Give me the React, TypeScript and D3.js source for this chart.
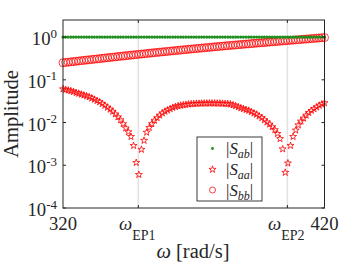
import React from 'react';
import * as d3 from 'd3';

// frequency grid (rad/s), one sample per rad/s
const omega = d3.range(320, 421);

// |S_ab| stays flat at 1
const sabAmp = [
  1, 1, 1, 1, 1, 1, 1, 1, 1, 1, 1, 1, 1, 1, 1, 1, 1, 1, 1, 1,
  1, 1, 1, 1, 1, 1, 1, 1, 1, 1, 1, 1, 1, 1, 1, 1, 1, 1, 1, 1,
  1, 1, 1, 1, 1, 1, 1, 1, 1, 1, 1, 1, 1, 1, 1, 1, 1, 1, 1, 1,
  1, 1, 1, 1, 1, 1, 1, 1, 1, 1, 1, 1, 1, 1, 1, 1, 1, 1, 1, 1,
  1, 1, 1, 1, 1, 1, 1, 1, 1, 1, 1, 1, 1, 1, 1, 1, 1, 1, 1, 1,
  1,
];

const saaAmp = [
  0.061, 0.0589, 0.0569, 0.055, 0.0525, 0.0501, 0.0479, 0.0457, 0.0437, 0.0417,
  0.0398, 0.0372, 0.0347, 0.0324, 0.0302, 0.0275, 0.0251, 0.0226, 0.0204, 0.0182,
  0.0158, 0.0135, 0.0115, 0.00933, 0.00741, 0.00603, 0.00468, 0.00288, 0.00115, 0.000603,
  0.00234, 0.0038, 0.00589, 0.00759, 0.00933, 0.0112, 0.0129, 0.0148, 0.0166, 0.0182,
  0.0195, 0.0209, 0.0224, 0.0234, 0.0245, 0.0251, 0.0257, 0.0263, 0.0269, 0.0272,
  0.0275, 0.0278, 0.028, 0.0281, 0.0282, 0.0282, 0.0283, 0.0283, 0.0282, 0.0282,
  0.0281, 0.0279, 0.0277, 0.0275, 0.0269, 0.0257, 0.0245, 0.0232, 0.0219, 0.0209,
  0.02, 0.0191, 0.0178, 0.0166, 0.0155, 0.0141, 0.0129, 0.0115, 0.0102, 0.00912,
  0.00794, 0.00676, 0.0055, 0.00417, 0.0024, 0.000676, 0.00112, 0.00288, 0.00468, 0.00661,
  0.00871, 0.0107, 0.0126, 0.0148, 0.017, 0.0191, 0.0209, 0.0229, 0.0251, 0.0269,
  0.0288,
];

const sbbAmp = [
  0.251, 0.255, 0.259, 0.263, 0.267, 0.272, 0.276, 0.281, 0.285, 0.29,
  0.294, 0.299, 0.304, 0.308, 0.313, 0.318, 0.324, 0.329, 0.333, 0.339,
  0.344, 0.35, 0.356, 0.361, 0.366, 0.372, 0.378, 0.384, 0.389, 0.395,
  0.401, 0.406, 0.413, 0.419, 0.426, 0.432, 0.438, 0.444, 0.451, 0.457,
  0.463, 0.47, 0.476, 0.483, 0.49, 0.497, 0.504, 0.511, 0.518, 0.525,
  0.532, 0.54, 0.546, 0.553, 0.561, 0.569, 0.575, 0.583, 0.592, 0.598,
  0.607, 0.614, 0.622, 0.63, 0.638, 0.646, 0.653, 0.662, 0.67, 0.679,
  0.687, 0.695, 0.703, 0.713, 0.721, 0.73, 0.738, 0.746, 0.755, 0.766,
  0.774, 0.783, 0.792, 0.802, 0.811, 0.82, 0.83, 0.839, 0.849, 0.859,
  0.869, 0.879, 0.889, 0.899, 0.91, 0.92, 0.931, 0.942, 0.953, 0.964,
  0.975,
];

// exceptional points and axis ticks
const epValues = [348.8, 405.8];
const epNames = ['EP1', 'EP2'];
const xEnds = [320, 420];
const yTickExps = [0, -1, -2, -3, -4];
const legendNames = ['ab', 'aa', 'bb'];

const SERIF = '"Liberation Serif", "Times New Roman", serif';
const AXIS = '#262626';
const RED = '#ff0000';
const GREEN = '#1d8f1d';

export default function App() {
  const x = d3.scaleLinear().domain([320, 420]).range([63, 324.5]);
  const y = d3.scaleLog().domain([1e-4, Math.pow(10, 0.4)]).range([208, 20]);
  const [x0, x1] = x.range();
  const [yb, yt] = y.range();
  const star = d3.symbol(d3.symbolStar, 15)() as string;

  const legendX = 197;
  const legendY = 137;
  const rowY = [148.5, 169.5, 190];

  return (
    <div style={{position: 'fixed', left: 0, top: 0}}>
      <svg width={358} height={268} style={{display: 'block', fontFamily: SERIF}}>
        <rect width={358} height={268} fill="#fff" />

        {/* EP grid lines */}
        {epValues.map(v => (
          <line key={v} x1={x(v)} x2={x(v)} y1={yt} y2={yb} stroke="#e3e3e3" strokeWidth={1.6} />
        ))}

        {/* data */}
        <g>
          {omega.map((w, i) => (
            <path
              key={'saa' + w}
              d={star}
              transform={`translate(${x(w)},${y(saaAmp[i])})`}
              fill="none"
              stroke={RED}
              strokeWidth={0.8}
            />
          ))}
          {omega.map((w, i) => (
            <circle key={'sbb' + w} cx={x(w)} cy={y(sbbAmp[i])} r={4} fill="none" stroke={RED} strokeWidth={0.75} />
          ))}
          {omega.map((w, i) => (
            <circle key={'sab' + w} cx={x(w)} cy={y(sabAmp[i])} r={1.6} fill={GREEN} />
          ))}
        </g>

        {/* box */}
        <rect x={x0} y={yt} width={x1 - x0} height={yb - yt} fill="none" stroke={AXIS} strokeWidth={1} />

        {/* y ticks */}
        {yTickExps.map(e => {
          const ty = y(Math.pow(10, e));
          return (
            <g key={e}>
              <line x1={x0} x2={x0 + 3} y1={ty} y2={ty} stroke={AXIS} />
              <line x1={x1} x2={x1 - 3} y1={ty} y2={ty} stroke={AXIS} />
              <text x={57} y={ty + 8} textAnchor="end" fontSize={18.7} fill={AXIS}>
                10
                <tspan dy={-7.5} fontSize={13}>
                  {e === 0 ? '0' : '-' + Math.abs(e)}
                </tspan>
              </text>
            </g>
          );
        })}

        {/* x ticks */}
        {epValues.map((v, i) => (
          <g key={v}>
            <line x1={x(v)} x2={x(v)} y1={yb} y2={yb - 3} stroke={AXIS} />
            <line x1={x(v)} x2={x(v)} y1={yt} y2={yt + 3} stroke={AXIS} />
            <text x={x(v) - 1} y={230} textAnchor="middle" fill={AXIS}>
              <tspan fontSize={18.7} fontStyle="italic">ω</tspan>
              <tspan fontSize={14} dy={10}>{epNames[i]}</tspan>
            </text>
          </g>
        ))}
        {xEnds.map(v => (
          <text key={v} x={x(v)} y={230} textAnchor="middle" fontSize={18.7} fill={AXIS}>
            {v}
          </text>
        ))}

        {/* axis labels */}
        <text x={193} y={258} textAnchor="middle" fontSize={20.5} fill={AXIS}>
          <tspan fontStyle="italic">ω</tspan> [rad/s]
        </text>
        <text
          transform="translate(18,114) rotate(-90)"
          textAnchor="middle"
          fontSize={20.5}
          fill={AXIS}
        >
          Amplitude
        </text>

        {/* legend */}
        <rect x={legendX} y={legendY} width={65} height={64} fill="#fff" stroke={AXIS} strokeWidth={0.9} />
        <circle cx={212.5} cy={rowY[0]} r={1.4} fill={GREEN} />
        <path d={star} transform={`translate(212.5,${rowY[1]})`} fill="none" stroke={RED} strokeWidth={0.8} />
        <circle cx={212.5} cy={rowY[2]} r={3} fill="none" stroke={RED} strokeWidth={0.75} />
        {legendNames.map((n, i) => (
          <text key={n} x={226} y={rowY[i] + 5.5} fontSize={16.8} fill={AXIS}>
            |<tspan fontStyle="italic">S</tspan>
            <tspan fontStyle="italic" fontSize={12} dy={4}>{n}</tspan>
            <tspan dy={-4}>|</tspan>
          </text>
        ))}
      </svg>
    </div>
  );
}
